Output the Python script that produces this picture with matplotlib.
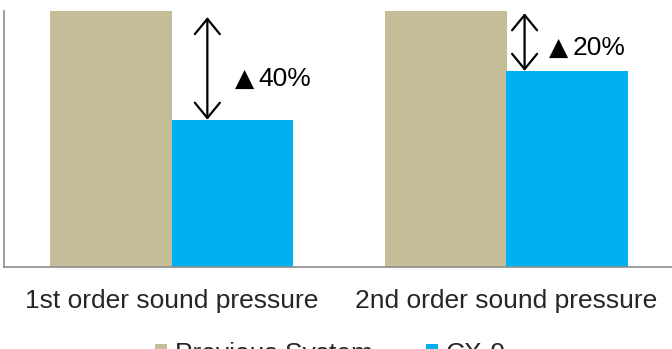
import matplotlib
matplotlib.use("Agg")
import matplotlib.pyplot as plt
from matplotlib.patches import FancyArrowPatch
import numpy as np

plt.rcParams['font.family'] = ['Liberation Sans', 'DejaVu Sans']

categories = ["1st order sound pressure", "2nd order sound pressure"]
series_names = ["Previous System", "CX-9"]
previous = [100, 100]
cx9 = [57.4, 76.5]
reductions = ["40%", "20%"]

colors = ["#C4BD97", "#00B0F0"]

fig = plt.figure(figsize=(6.72, 3.49), dpi=100)
ax = fig.add_axes([4/672, 1 - 266.7/349, 670/672, (266.7 - 10.7)/349])

x = np.arange(len(categories))
w = 0.364
ax.bar(x - w/2, previous, w, color=colors[0], label=series_names[0])
ax.bar(x + w/2, cx9, w, color=colors[1], label=series_names[1])

ax.set_xlim(-0.5, 1.5)
ax.set_ylim(0, 100)
ax.set_xticks(x)
ax.set_xticklabels(categories, fontsize=19, color="#262626")
ax.tick_params(axis='x', length=0, pad=16)
ax.set_yticks([])
for s in ['top', 'right']:
    ax.spines[s].set_visible(False)
for s in ['left', 'bottom']:
    ax.spines[s].set_color('#8c8c8c')
    ax.spines[s].set_linewidth(1.2)

# arrows and labels
arrow_x = [0.107, 1.054]
arrow_top = [97.5, 99.0]
text_x = [0.188, 1.128]
text_y = [73.3, 85.4]
for i in range(len(categories)):
    arr = FancyArrowPatch((arrow_x[i], arrow_top[i]), (arrow_x[i], cx9[i]),
                          arrowstyle='<->,head_length=0.55,head_width=0.45',
                          mutation_scale=20, lw=1.6, color='black',
                          shrinkA=0, shrinkB=0, clip_on=False)
    ax.add_patch(arr)
    ax.text(text_x[i], text_y[i], "▲", fontsize=18, family=['DejaVu Sans'],
            color='black', ha='left', va='center')
    ax.annotate(reductions[i], (text_x[i], text_y[i]), xytext=(17, 0),
                textcoords='offset points', fontsize=19, color='black',
                ha='left', va='center')

leg = fig.legend(loc='upper center', bbox_to_anchor=(330.5/672, 1 - 318/349),
           ncol=2, frameon=False, fontsize=19, handlelength=0.45,
           handleheight=0.45, handletextpad=0.3, columnspacing=2.0,
           labelcolor="#262626")

fig.savefig("out.png", dpi=100)
